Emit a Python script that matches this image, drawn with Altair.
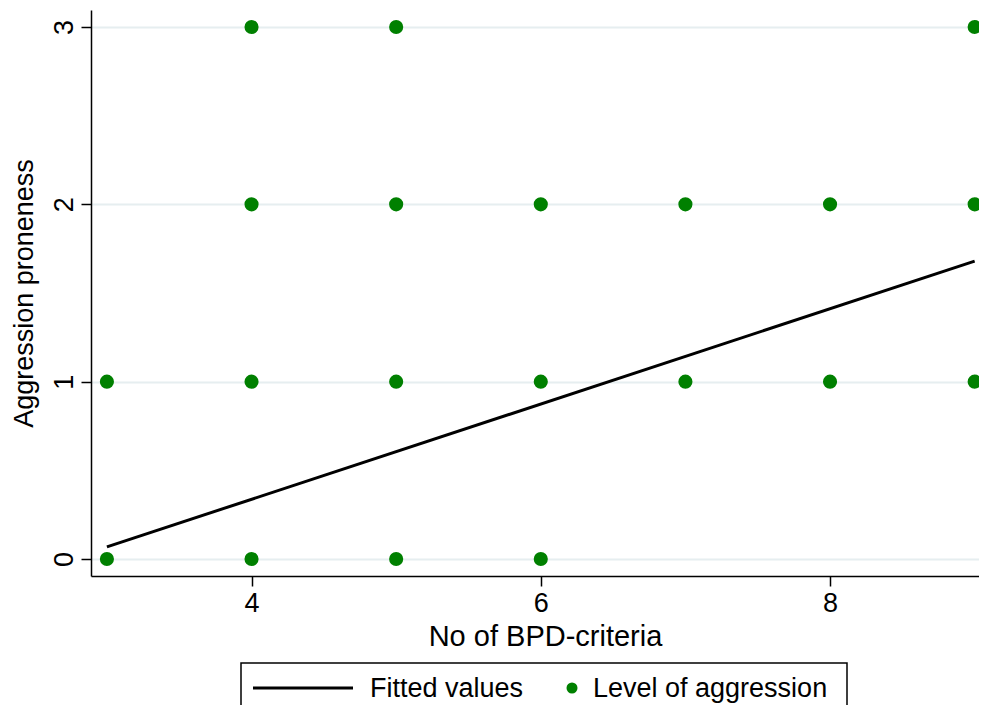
import altair as alt
import pandas as pd

# ---- data ----
bpd_criteria = [4, 5, 9,
                4, 5, 6, 7, 8, 9,
                3, 4, 5, 6, 7, 8, 9,
                3, 4, 5, 6]
aggression = [3, 3, 3,
              2, 2, 2, 2, 2, 2,
              1, 1, 1, 1, 1, 1, 1,
              0, 0, 0, 0]
fit_x = [3, 9]
fit_y = [0.068, 1.68]
x_ticks = [4, 6, 8]
y_ticks = [0, 1, 2, 3]
legend_labels = ["Fitted values", "Level of aggression"]

FONT = "Liberation Sans"
FS = 27
GREEN = "#008000"

pts = pd.DataFrame({"bpd": bpd_criteria, "aggr": aggression})
fit = pd.DataFrame({"bpd": fit_x, "aggr": fit_y})

xscale = alt.Scale(domain=[2.89, 9.03], nice=False, zero=False)
yscale = alt.Scale(domain=[-0.096, 3.096], nice=False, zero=False)

xaxis = alt.Axis(values=x_ticks, grid=False, tickSize=10, tickWidth=1.5,
                 labelPadding=4, labelFontSize=FS, labelFont=FONT,
                 title="No of BPD-criteria", titleFontSize=29, titleFont=FONT,
                 titleFontWeight="normal", titleBaseline="alphabetic", titleY=69,
                 titleX=454, titleAlign="center", titleAnchor="start",
                 domainColor="black", domainWidth=1.5, tickColor="black",
                 labelColor="black", titleColor="black")
yaxis = alt.Axis(values=y_ticks, grid=True, gridColor="#e6eef0", gridWidth=2,
                 tickSize=10, tickWidth=1.5, labelAngle=270, labelAlign="center",
                 labelBaseline="alphabetic", labelPadding=9,
                 labelFontSize=FS, labelFont=FONT,
                 title="Aggression proneness", titleFontSize=27, titleFont=FONT,
                 titleFontWeight="normal", titleBaseline="alphabetic", titleX=-59,
                 titleAngle=270,
                 domainColor="black", domainWidth=1.5, tickColor="black",
                 labelColor="black", titleColor="black")

line = alt.Chart(fit).mark_line(color="black", strokeWidth=3).encode(
    x=alt.X("bpd:Q", scale=xscale, axis=xaxis),
    y=alt.Y("aggr:Q", scale=yscale, axis=yaxis),
)
points = alt.Chart(pts).mark_circle(size=200, color=GREEN, opacity=1).encode(
    x=alt.X("bpd:Q", scale=xscale, axis=xaxis),
    y=alt.Y("aggr:Q", scale=yscale, axis=yaxis),
)

# ---- legend (drawn as a box below the plot) ----
one = pd.DataFrame({"k": [0]})
leg_box = alt.Chart(one).mark_rect(fill="white", stroke="black", strokeWidth=1.5).encode(
    x=alt.value(150), x2=alt.value(756), y=alt.value(653), y2=alt.value(730))
leg_line = alt.Chart(one).mark_rule(color="black", strokeWidth=3).encode(
    x=alt.value(162), x2=alt.value(262), y=alt.value(678))
leg_dot = alt.Chart(one).mark_circle(size=121, color=GREEN, opacity=1).encode(
    x=alt.value(481), y=alt.value(678))
leg_t1 = alt.Chart(one).mark_text(align="left", baseline="alphabetic", fontSize=FS,
                                  font=FONT, color="black").encode(
    x=alt.value(279), y=alt.value(687), text=alt.value(legend_labels[0]))
leg_t2 = alt.Chart(one).mark_text(align="left", baseline="alphabetic", fontSize=FS,
                                  font=FONT, color="black").encode(
    x=alt.value(502), y=alt.value(687), text=alt.value(legend_labels[1]))

chart = alt.layer(line, points, leg_box, leg_line, leg_dot, leg_t1, leg_t2).properties(
    width=888, height=566,
    autosize=alt.AutoSizeParams(type="none"),
    padding={"left": 83, "top": 2, "right": 0, "bottom": 129},
).configure_view(stroke=None)

chart.save("out.html", embed_options={"renderer": "svg", "actions": False})
